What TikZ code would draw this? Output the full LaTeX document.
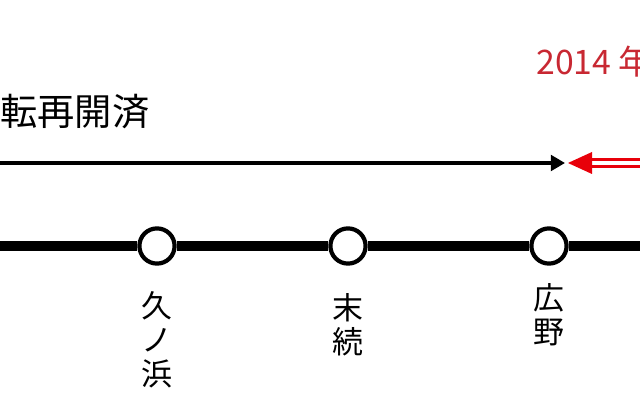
\documentclass[tikz,border=0pt]{standalone}
\usepackage{fontspec}
\setmainfont{Noto Sans CJK JP}
\usetikzlibrary{arrows.meta,positioning,calc}
\definecolor{notered}{RGB}{200,40,50}
\definecolor{arrowred}{RGB}{232,0,10}
\tikzset{
  track/.style={line width=7.5pt},
  station/.style={circle, draw=black, fill=white, line width=3pt, minimum size=0.88cm, inner sep=0pt},
  station-name/.style={inner sep=0pt, anchor=north, align=center, font=\fontsize{22}{24}\selectfont},
  done-arrow/.style={line width=2.5pt, -{Triangle[length=10pt,width=11pt]}},
  red-rail/.style={arrowred, line width=1.6pt}
}
\begin{document}
\begin{tikzpicture}[x=0.025cm, y=-0.025cm]
  \useasboundingbox (0,0) rectangle (640,400);
  % Texts
  \node[anchor=west, inner sep=0pt, font=\fontsize{26.5}{27}\selectfont] (done-text) at (0,112) {転再開済};
  \node[anchor=base west, inner sep=0pt, text=notered, font=\fontsize{24}{24}\selectfont] (year-text) at (536,75) {2014 年};
  % Arrows
  \coordinate (done-start) at (-10,163);
  \coordinate (done-end) at (565,163);
  \draw[done-arrow] (done-start) -- (done-end);
  \coordinate (red-tip) at (568,163);
  \fill[arrowred] (red-tip) -- ++(24,-11) -- ++(0,22) -- cycle;
  \draw[red-rail] ($(red-tip)+(20,-3.5)$) -- ++(70,0);
  \draw[red-rail] ($(red-tip)+(20,3.5)$) -- ++(70,0);
  % Line and stations
  \coordinate (line-west) at (-10,246);
  \coordinate (line-east) at (650,246);
  \node[station] (hisanohama) at (157,246) {};
  \node[station] (suetsugi) at (348,246) {};
  \node[station] (hirono) at (549,246) {};
  \draw[track] (line-west) -- (hisanohama) -- (suetsugi) -- (hirono) -- (line-east);
  \node[station-name, below=0.65cm of hisanohama] (hisanohama-name) {久\\ノ\\浜};
  \node[station-name, below=0.69cm of suetsugi] (suetsugi-name) {末\\続};
  \node[station-name, below=0.45cm of hirono] (hirono-name) {広\\野};
\end{tikzpicture}
\end{document}
